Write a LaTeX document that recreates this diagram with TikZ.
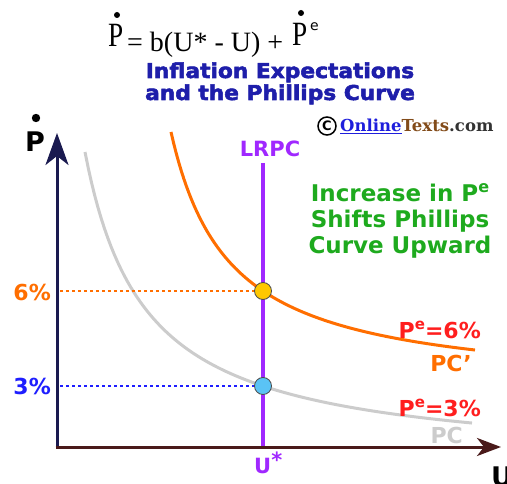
\documentclass[tikz,border=0pt]{standalone}
\usepackage{fontspec}
\setmainfont{Liberation Serif}
\newfontfamily\lbl{DejaVu Sans}
\newfontfamily\serb{DejaVu Serif}
\newfontface\heavy{DejaVu Sans Bold}[FakeBold=2.5]
\usetikzlibrary{arrows.meta}
\definecolor{axisY}{RGB}{26,26,80}
\definecolor{axisX}{RGB}{74,26,26}
\definecolor{pcorange}{RGB}{255,110,0}
\definecolor{pcgray}{RGB}{204,204,204}
\definecolor{lrpc}{RGB}{160,40,255}
\definecolor{titleblue}{RGB}{30,30,170}
\definecolor{lblblue}{RGB}{30,30,255}
\definecolor{lblred}{RGB}{255,30,30}
\definecolor{lblgreen}{RGB}{30,170,30}
\definecolor{onlineblue}{RGB}{30,30,220}
\definecolor{textsbrown}{RGB}{130,75,25}
\definecolor{dotyellow}{RGB}{255,200,0}
\definecolor{dotblue}{RGB}{90,195,245}
\tikzset{
  lab/.style={inner sep=0pt, font=\lbl\bfseries\fontsize{22}{24}\selectfont},
  eqP/.style={inner sep=0pt, xscale=0.8, font=\fontsize{34}{36}\selectfont},
  titletext/.style={inner sep=0pt, anchor=base, xscale=1.06, text=titleblue, font=\heavy\fontsize{20.5}{22}\selectfont},
  curve/.style={line width=3pt},
  guide/.style={line width=2.5pt, dash pattern=on 3pt off 3pt},
  mark dot/.style={circle, draw=black!70, line width=0.8pt, minimum size=17pt, inner sep=0pt},
}
\begin{document}
\begin{tikzpicture}[x=1pt,y=-1pt]
\useasboundingbox (0,0) rectangle (507,484);
% equation
\node[eqP, anchor=base west] (eqp1) at (108,47) {P};
\node[inner sep=0pt, anchor=base west, font=\fontsize{28}{30}\selectfont] (eqmid) at (127,52) {= b(U* - U) +};
\node[eqP, anchor=base west] (eqp2) at (292,46) {P};
\node[inner sep=0pt, anchor=base west, font=\lbl\fontsize{14}{15}\selectfont] (eqe) at (310,31) {e};
\fill (117,15) circle (3);
\fill (301,13) circle (3);
% title
\node[titletext] (t1) at (280,78) {Inflation Expectations};
\node[titletext] (t2) at (280,100) {and the Phillips Curve};
% copyright
\node[inner sep=0pt, anchor=base west, font=\serb\bfseries\fontsize{16.5}{18}\selectfont] (copy) at (340,132) {\textcolor{onlineblue}{\underline{Online}}\textcolor{textsbrown}{Texts}\textcolor{black!80}{.com}};
\node[circle, draw=black, line width=1.5pt, minimum size=18pt, inner sep=0pt, font=\lbl\bfseries\fontsize{13}{14}\selectfont] (cc) at (327,126) {C};
% green text
\node[inner sep=0pt, anchor=base, align=center, text=lblgreen, font=\lbl\bfseries\fontsize{23}{26}\selectfont] (green) at (400,254) {Increase in P\raisebox{0.42em}{\fontsize{16}{16}\selectfont e}\\Shifts Phillips\\Curve Upward};
% coordinates
\coordinate (O) at (57,447);
\coordinate (Ytip) at (57,133);
\coordinate (Xtip) at (501,447);
\coordinate (Ltop) at (263,163);
\coordinate (Lbot) at (263,447);
\coordinate (y6) at (60,291);
\coordinate (y3) at (60,386);
% curves
\draw[curve, pcgray] plot[domain=85:472, samples=120] (\x, {465.2 - 188.64/((\x-24.77)/100)});
\draw[curve, pcorange] plot[domain=171:475, samples=120] (\x, {391.9 - 151.8/((\x-112.6)/100)});
% LRPC
\draw[lrpc, line width=3.5pt] (Ltop) -- (Lbot);
\node[mark dot, fill=dotyellow] (c6) at (263,291) {};
\node[mark dot, fill=dotblue] (c3) at (263,386) {};
\draw[guide, pcorange] (y6) -- (c6.west);
\draw[guide, lblblue] (y3) -- (c3.west);
% axes
\draw[axisY, line width=3pt, -{Stealth[length=32pt, width=23pt, inset=9pt]}] ([yshift=1.5pt]O) -- (Ytip);
\draw[axisX, line width=3pt, -{Stealth[length=24pt, width=18pt, inset=7pt]}] ([xshift=-1.5pt]O) -- (Xtip);
% labels
\node[lab, anchor=base, font=\lbl\bfseries\fontsize{27}{28}\selectfont] (Plab) at (35,152) {P};
\fill (36,118) circle (4.2);
\node[lab, anchor=base west, font=\lbl\bfseries\fontsize{27}{28}\selectfont] (Ulab) at (491,486) {U};
\node[lab, anchor=base east, text=pcorange] (l6) at (51,301) {6\%};
\node[lab, anchor=base east, text=lblblue] (l3) at (51,395) {3\%};
\node[lab, anchor=base, text=lrpc, font=\lbl\bfseries\fontsize{21}{22}\selectfont] (lrpclab) at (270,157) {LRPC};
\node[lab, anchor=base west, text=lrpc, font=\lbl\bfseries\fontsize{21}{22}\selectfont] (ustar) at (254,474) {U\raisebox{0.3em}{*}};
\node[lab, anchor=base east, text=lblred] (pe6) at (481,339) {P\raisebox{0.42em}{\fontsize{15}{15}\selectfont e}=6\%};
\node[lab, anchor=base east, text=pcorange] (pcp) at (472,372) {PC’};
\node[lab, anchor=base east, text=lblred] (pe3) at (481,417) {P\raisebox{0.42em}{\fontsize{15}{15}\selectfont e}=3\%};
\node[lab, anchor=base east, text=pcgray] (pc) at (463,443) {PC};
\end{tikzpicture}
\end{document}
